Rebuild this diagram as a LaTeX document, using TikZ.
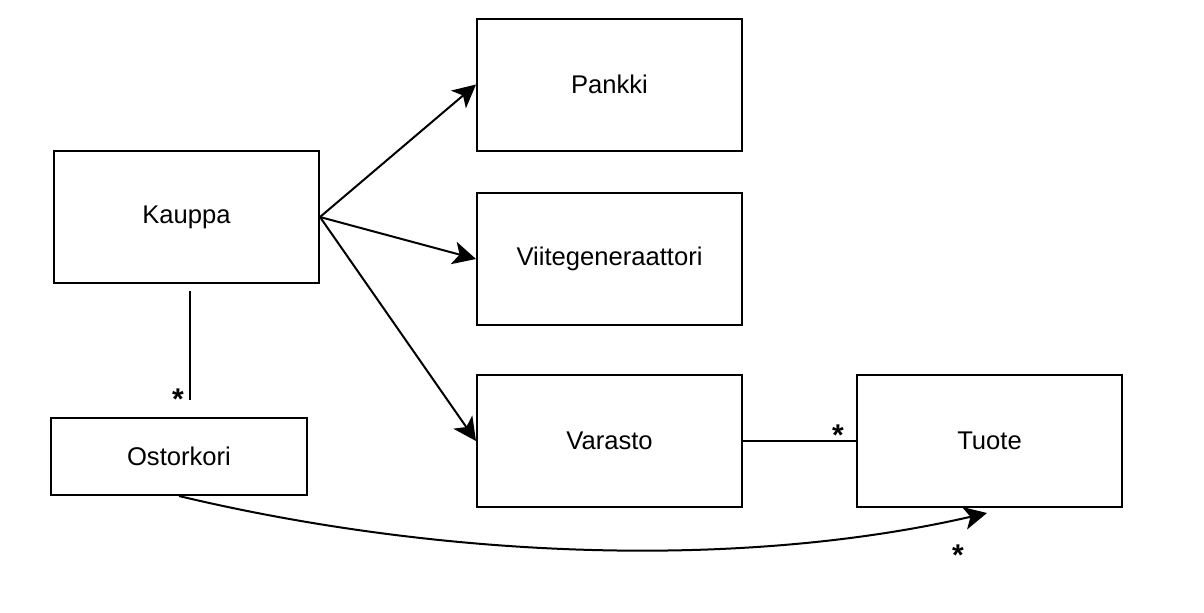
\documentclass[tikz,border=0pt]{standalone}
\usepackage{fontspec}
\setmainfont{Liberation Sans}
\usetikzlibrary{arrows.meta, positioning}
\tikzset{
	x=0.5pt, y=-0.5pt,
	>={Stealth[length=11.5pt, width=11.5pt, inset=3pt]},
	every path/.style={line width=1pt},
	luokka/.style={draw, line width=1pt, minimum width=132.5pt, minimum height=66pt, inner sep=0pt, font=\fontsize{12.8}{15}\selectfont},
	monta/.style={anchor=base, inner sep=0pt, font=\fontsize{15}{18}\selectfont\bfseries}}

\begin{document}
\begin{tikzpicture}
		\useasboundingbox (0,0) rectangle (1204,612);
		\node[luokka] (kauppa) at (186.5,217) {Kauppa};
		\node[luokka] (pankki) at (609.5,84.5) {Pankki};
		\node[luokka] (viite) at (609.5,259) {Viitegeneraattori};
		\node[luokka] (varasto) at (609.5,441) {Varasto};
		\node[luokka] (tuote) at (989.5,441) {Tuote};
		\node[luokka, minimum width=128pt, minimum height=38.5pt] (kori) at (179,456.5) {Ostorkori};
		\coordinate (kx) at (190,0);
		\coordinate (tk) at (987,513);
		
		\draw[->] (kauppa.east) -- (pankki.west);
		\draw[->] (kauppa.east) -- (viite.west);
		\draw[->] (kauppa.east) -- (varasto.west);
		\draw[shorten <=3.5pt, shorten >=8.5pt] (kauppa.south -| kx) -- (kori.north -| kx);
		\draw (varasto.east) -- (tuote.west);
		\draw[->] (kori.south) .. controls (430,556) and (730,572) .. (tk);
		
		\node[monta] (m1) at (178,409.5) {*};
		\node[monta] (m2) at (838,445) {*};
		\node[monta] (m3) at (958,565) {*};
	\end{tikzpicture}
\end{document}
